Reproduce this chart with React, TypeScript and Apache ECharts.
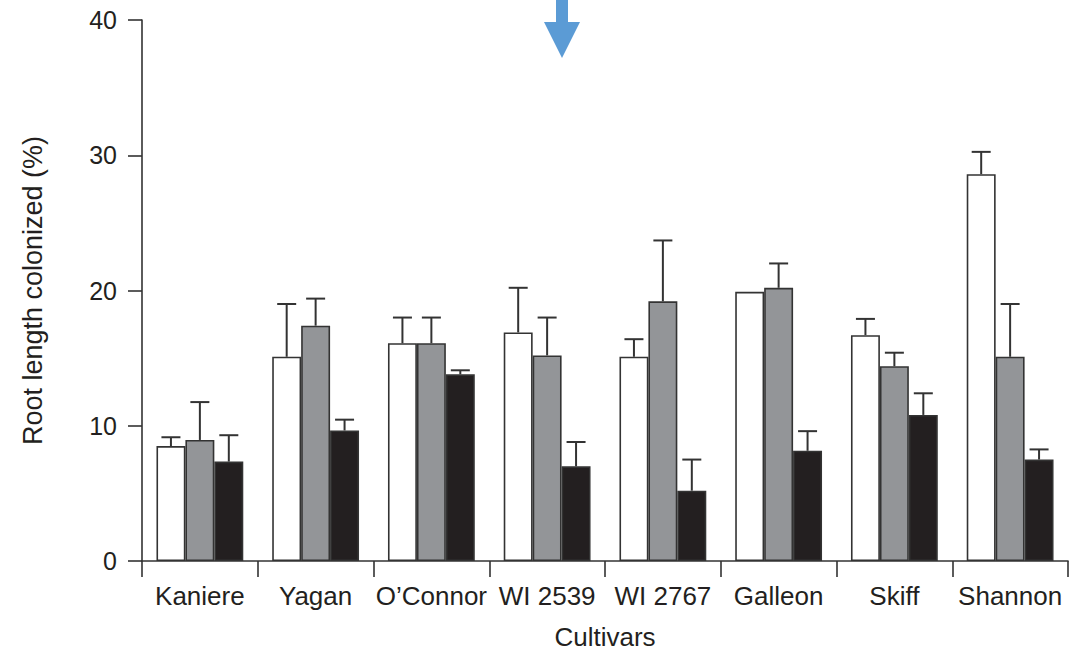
import React, { useEffect, useRef } from "react";
import * as echarts from "echarts";

const categories = ["Kaniere", "Yagan", "O\u2019Connor", "WI 2539", "WI 2767", "Galleon", "Skiff", "Shannon"];
const whiteValues = [8.5, 15.1, 16.1, 16.9, 15.1, 19.9, 16.7, 28.6];
const whiteErrors = [0.65, 3.9, 1.9, 3.3, 1.3, 0, 1.2, 1.65];
const grayValues = [8.95, 17.4, 16.1, 15.2, 19.2, 20.2, 14.4, 15.1];
const grayErrors = [2.8, 2.0, 1.9, 2.8, 4.5, 1.8, 1.0, 3.9];
const blackValues = [7.35, 9.65, 13.8, 7.0, 5.2, 8.15, 10.8, 7.5];
const blackErrors = [1.95, 0.8, 0.3, 1.8, 2.3, 1.45, 1.6, 0.75];
const yTicks = [0, 10, 20, 30, 40];

const TEXT = "#231f20";
const LINE = "#333333";
const FONT = "Liberation Sans";

export default function App() {
  const ref = useRef<HTMLDivElement>(null);
  useEffect(() => {
    if (!ref.current) return;
    const chart = echarts.init(ref.current, null, { renderer: "svg" });

    const errSeries = (values: number[], errors: number[], offset: number) => ({
      type: "custom",
      silent: true,
      z: 1,
      data: values.map((v, i) => [i, v, errors[i]]),
      renderItem: (params: any, api: any) => {
        const idx = api.value(0);
        const v = api.value(1);
        const e = api.value(2);
        if (!e) return null;
        const bandW = api.size([1, 0])[0];
        const base = api.coord([idx, v]);
        const top = api.coord([idx, v + e]);
        const x = base[0] + offset * bandW * 0.25;
        const hw = 9.5;
        const style = { stroke: LINE, lineWidth: 2 };
        return {
          type: "group",
          children: [
            { type: "line", shape: { x1: x, y1: base[1], x2: x, y2: top[1] }, style },
            { type: "line", shape: { x1: x - hw, y1: top[1], x2: x + hw, y2: top[1] }, style },
          ],
        };
      },
    });

    const barSeries = (values: number[], color: string) => ({
      type: "bar",
      data: values,
      barGap: "0%",
      barCategoryGap: "25%",
      z: 2,
      itemStyle: { color, borderColor: LINE, borderWidth: 1.6 },
    });

    chart.setOption({
      animation: false,
      backgroundColor: "#ffffff",
      grid: { left: 142, right: 21, top: 20, bottom: 91, containLabel: false, outerBoundsMode: "none" },
      xAxis: {
        type: "category",
        data: categories,
        axisLine: { show: true, lineStyle: { color: LINE, width: 1.6 } },
        axisTick: { show: true, length: 16, lineStyle: { color: LINE, width: 1.6 } },
        axisLabel: { color: TEXT, fontFamily: FONT, fontSize: 26, margin: 22, interval: 0 },
        name: "Cultivars",
        nameLocation: "middle",
        nameGap: 63,
        nameTextStyle: { color: TEXT, fontFamily: FONT, fontSize: 26 },
      },
      yAxis: {
        type: "value",
        min: yTicks[0],
        max: yTicks[yTicks.length - 1],
        interval: 10,
        splitLine: { show: false },
        axisLine: { show: true, lineStyle: { color: LINE, width: 1.6 } },
        axisTick: { show: true, length: 14, lineStyle: { color: LINE, width: 1.6 } },
        axisLabel: { color: TEXT, fontFamily: FONT, fontSize: 25, margin: 25 },
        name: "Root length colonized (%)",
        nameLocation: "middle",
        nameGap: 96,
        nameTextStyle: { color: TEXT, fontFamily: FONT, fontSize: 27 },
      },
      graphic: [
        {
          type: "polygon",
          shape: {
            points: [
              [556, 0], [568, 0], [568, 22], [580, 22], [562, 58], [544, 22], [556, 22],
            ],
          },
          style: { fill: "#5b9bd5" },
        },
      ],
      series: [
        barSeries(whiteValues, "#ffffff"),
        barSeries(grayValues, "#939598"),
        barSeries(blackValues, "#231f20"),
        errSeries(whiteValues, whiteErrors, -1),
        errSeries(grayValues, grayErrors, 0),
        errSeries(blackValues, blackErrors, 1),
      ],
    });
    return () => chart.dispose();
  }, []);
  return <div ref={ref} style={{ width: 1089, height: 652, position: "absolute", left: 0, top: 0 }} />;
}
